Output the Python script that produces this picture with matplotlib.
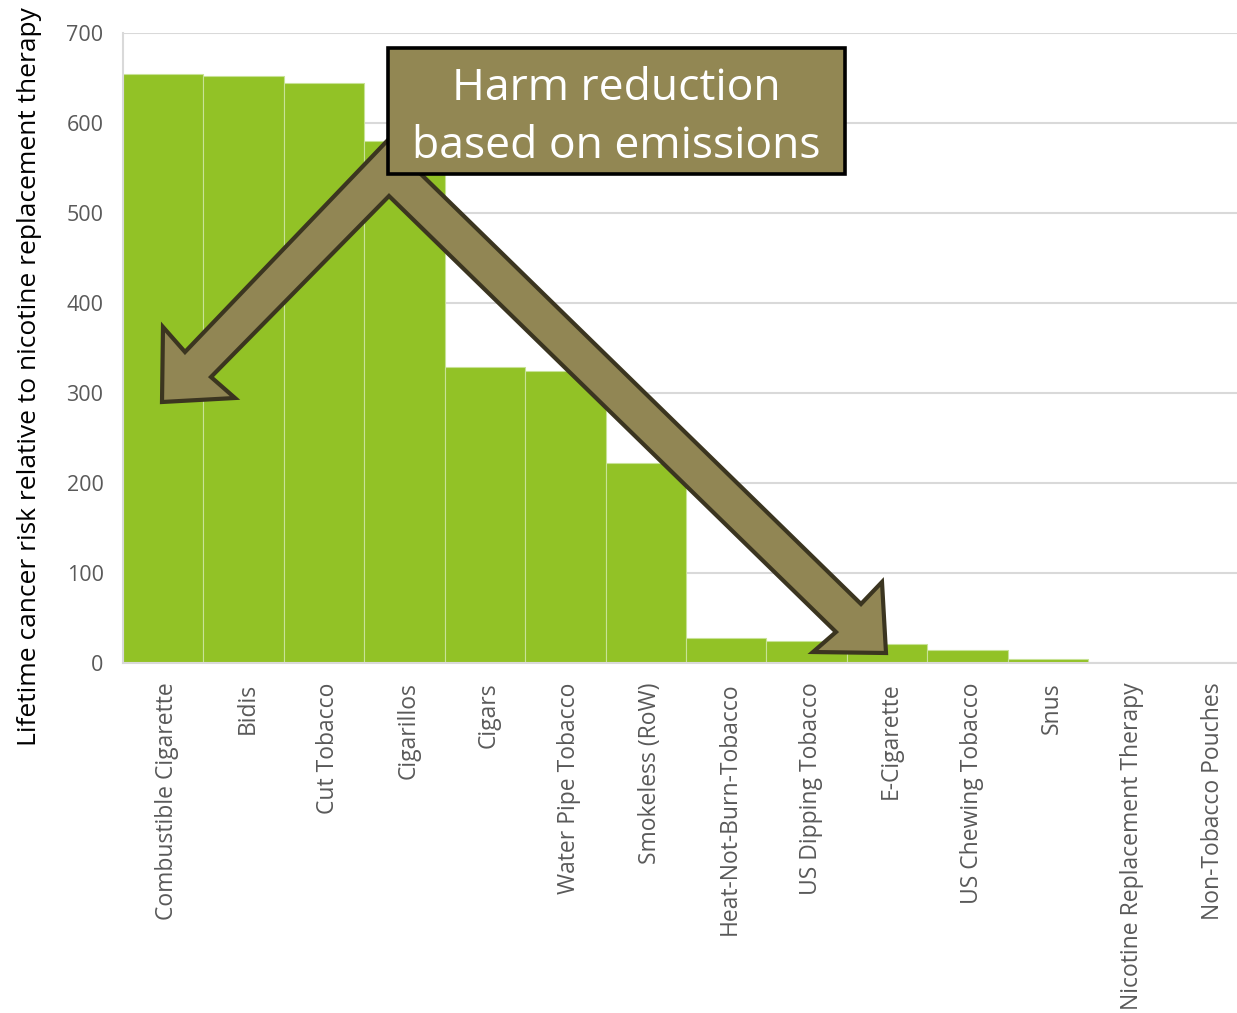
import matplotlib
matplotlib.use("Agg")
import matplotlib.pyplot as plt
from matplotlib.patches import Polygon, Rectangle

categories = ["Combustible Cigarette", "Bidis", "Cut Tobacco", "Cigarillos", "Cigars",
              "Water Pipe Tobacco", "Smokeless (RoW)", "Heat-Not-Burn-Tobacco",
              "US Dipping Tobacco", "E-Cigarette", "US Chewing Tobacco", "Snus",
              "Nicotine Replacement Therapy", "Non-Tobacco Pouches"]
risk = [655, 652, 645, 580, 329, 324, 222, 28, 25, 21, 14, 5, 0.3, 0.2]
yticks = [0, 100, 200, 300, 400, 500, 600, 700]
ylabel = "Lifetime cancer risk relative to nicotine replacement therapy"
box_lines = "Harm reduction\nbased on emissions"

W, H = 1237, 1013
plt.rcParams['font.family'] = ['Open Sans', 'DejaVu Sans']
fig = plt.figure(figsize=(W / 100, H / 100), dpi=100)
ax = fig.add_axes([123 / W, 1 - 663 / H, 1126 / W, (663 - 33) / H])

x = list(range(len(categories)))
ax.bar(x, risk, width=1.0, color="#92c226", edgecolor="#c8e296", linewidth=0.8, zorder=2)
ax.set_xlim(-0.5, len(categories) - 0.5)
ax.set_ylim(0, 700)
ax.set_yticks(yticks)
ax.set_yticklabels([str(v) for v in yticks], color="#595959", fontsize=15.5)
# labels sit slightly right of bar centres in the reference
ax.set_xticks([i + 0.05 for i in x])
ax.set_xticklabels(categories, rotation=90, color="#595959", fontsize=16.5, va="top", ha="center")
ax.tick_params(axis="both", length=0)
ax.tick_params(axis="y", pad=14)
ax.tick_params(axis="x", pad=14)
ax.grid(axis="y", color="#d9d9d9", linewidth=1.5, zorder=0)
for s in ["top", "right"]:
    ax.spines[s].set_visible(False)
ax.spines["left"].set_color("#d9d9d9")
ax.spines["left"].set_linewidth(1.5)
ax.spines["bottom"].set_color("#d9d9d9")
ax.spines["bottom"].set_linewidth(1.5)
fig.text(30 / W, 1 - 377 / H, ylabel, rotation=90, ha="center", va="center",
         fontsize=19, color="black")

# chevron double arrow (pixel coordinates of the reference, converted to figure fraction)
pts_px = [(387, 141), (861, 604), (882, 582), (886, 653), (813, 652), (836, 632),
          (389, 196), (211, 377), (235, 398), (162, 402), (163, 327), (185, 352)]
pts = [(px / W, 1 - py / H) for px, py in pts_px]
arrow = Polygon(pts, closed=True, transform=fig.transFigure, facecolor="#918654",
                edgecolor="#3b3520", linewidth=3, joinstyle="miter", zorder=5)
fig.patches.append(arrow)

box = Rectangle((388 / W, 1 - 174 / H), 457 / W, 126 / H, transform=fig.transFigure,
                facecolor="#928753", edgecolor="black", linewidth=2.6, zorder=6)
fig.patches.append(box)
fig.text(616 / W, 1 - 118 / H, box_lines, ha="center", va="center", color="white",
         fontsize=32, linespacing=1.4, zorder=7)

fig.savefig("out.png", dpi=100)
